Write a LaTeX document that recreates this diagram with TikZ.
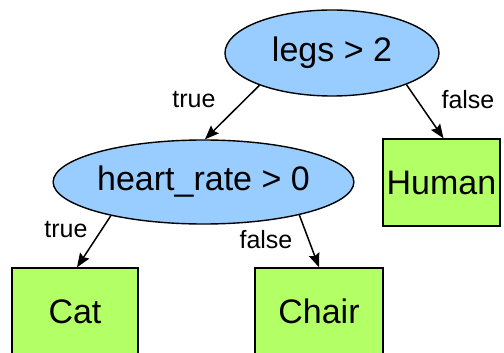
\documentclass[tikz,border=0pt]{standalone}
\usepackage{fontspec}
\setmainfont{Liberation Sans}
\usetikzlibrary{shapes.geometric,arrows.meta}
\definecolor{nodeblue}{HTML}{99CCFF}
\definecolor{leafgreen}{HTML}{B3FF66}
\tikzset{
  test/.style={ellipse, draw=black, line width=1.4pt, fill=nodeblue, inner sep=0pt, font=\fontsize{34}{40}\selectfont},
  leaf/.style={rectangle, draw=black, line width=1.4pt, fill=leafgreen, inner sep=0pt, font=\fontsize{34}{40}\selectfont},
  edge/.style={line width=1.5pt, -{Stealth[length=14pt,width=11pt,inset=2pt]}},
  elabel/.style={inner sep=0pt, font=\fontsize{25}{30}\selectfont}
}
\begin{document}
\begin{tikzpicture}[x=1pt,y=-1pt]
\useasboundingbox (0,0) rectangle (504,353);
\clip (0,0) rectangle (504,353);
\node[test, minimum width=214pt, minimum height=86pt] (legs) at (332,53) {legs > 2};
\node[test, minimum width=257pt, minimum height=84pt] (heart) at (203.5,182) {heart\_rate > 0};
\node[leaf, minimum width=117pt, minimum height=87pt] (human) at (441.5,182.5) {Human};
\node[leaf, minimum width=126pt, minimum height=87pt] (cat) at (75,311.5) {Cat};
\node[leaf, minimum width=128pt, minimum height=87pt] (chair) at (319,311.5) {Chair};
\draw[edge] (legs.204) -- (heart.88);
\draw[edge] (legs.337) -- ([xshift=2pt]human.north);
\draw[edge] (heart.200) -- ([xshift=2pt]cat.north);
\draw[edge] (heart.341) -- (chair.north);
\node[elabel] (t1) at (194,100) {true};
\node[elabel] (f1) at (468,100) {false};
\node[elabel] (t2) at (66,230) {true};
\node[elabel] (f2) at (266,240) {false};
\end{tikzpicture}
\end{document}
